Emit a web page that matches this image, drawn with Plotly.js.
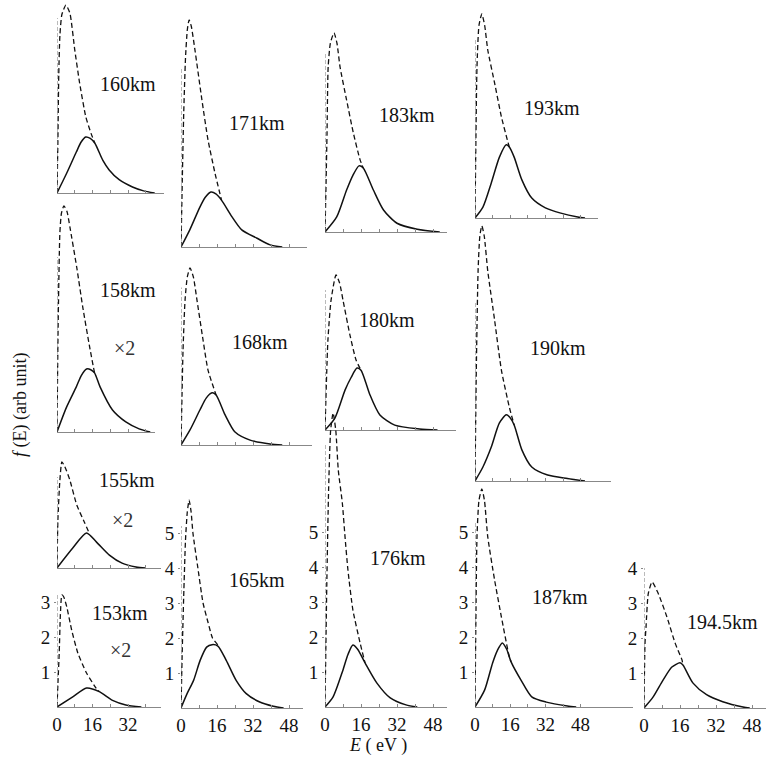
<!DOCTYPE html>
<html><head><meta charset="utf-8">
<script src="https://cdn.plot.ly/plotly-3.0.1.min.js"></script>
<style>html,body{margin:0;padding:0;background:#fff}#chart{width:766px;height:762px}</style>
</head><body><div id="chart"></div>
<script>
// ---- values: E (eV) and f(E) (arb. unit) ----
// dashed (d) and solid (s) curves for each altitude
const E160d=[0,0.4,0.8,1.3,2.2,4,5.8,8,10.2,13,15.3,17];
const F160d=[0,1.5,3.4,4.5,5.1,5.37,5.14,4.09,3.14,2.17,1.71,1.43];
const E160s=[0,4.4,8.7,10.8,12.9,15,17,20.6,23.5,28,34,39,44];
const F160s=[0,0.57,1.17,1.45,1.6,1.56,1.43,0.94,0.66,0.38,0.17,0.06,0];

const E158d=[0,0.5,1.3,2,3.1,4.5,5.8,8.9,11.6,14.7,16.9];
const F158d=[0,3.0,5.7,6.25,6.46,6.3,5.86,4.7,3.57,2.43,1.69];
const E158s=[0,4.3,8.7,11,13.3,15.2,16.9,19.4,25,31,37,42];
const F158s=[0,0.71,1.29,1.62,1.8,1.78,1.69,1.29,0.63,0.29,0.09,0];

const E155d=[0,0.4,1.3,2.2,3.5,5.8,8.9,12.4,14.5];
const F155d=[0,1.37,2.51,3.03,2.9,2.51,1.8,1.3,1.0];
const E155s=[0,7.1,13.3,17.8,23.6,29.3,35.6,40];
const F155s=[0,0.57,1.0,0.74,0.37,0.14,0.03,0];

const E153d=[0,0.5,1,1.5,2.2,3,4.4,6.6,9.4,13.3,17.6,19];
const F153d=[0,0.8,1.54,2.6,3.2,3.15,2.86,2.2,1.54,0.97,0.54,0.44];
const E153s=[0,7.1,13.3,19,25,31,38];
const F153s=[0,0.29,0.54,0.44,0.19,0.06,0];

const E171d=[0,0.6,1.2,2.0,2.8,3.6,4.6,6.2,9.3,12,15.1,18];
const F171d=[0,2.0,3.8,5.4,6.2,6.49,6.3,5.63,4.2,3.06,2.11,1.34];
const E171s=[0,3.9,8.4,10.8,13.3,15.5,18,22.6,27,33.8,39.6,45];
const F171s=[0,0.49,1.14,1.42,1.57,1.52,1.34,0.87,0.49,0.25,0.06,0];

const E168d=[0,0.9,1.8,2.8,4,5.5,7.1,9.8,12,15.6];
const F168d=[0,2.71,4.14,4.8,5.06,4.8,4.14,3.0,2.14,1.43];
const E168s=[0,4,8.4,11.2,13.8,15.6,19.6,24,30.7,39.6,45];
const F168s=[0,0.43,1.0,1.34,1.49,1.43,0.86,0.37,0.14,0.03,0];

const E165d=[0,0.5,1.2,2,2.8,3.6,4.5,5.3,7.5,9.8,12,14,16.4];
const F165d=[0,1.5,3.2,4.8,5.6,5.94,5.6,5.0,4.0,3.0,2.45,2.0,1.8];
const E165s=[0,2.7,5.6,8.5,11.4,13.8,16.4,20.1,24.5,29,35,41,45.6];
const F165s=[0,0.41,0.79,1.36,1.74,1.81,1.77,1.36,0.79,0.41,0.17,0.05,0];

const E183d=[0,0.5,0.9,1.4,2.4,4,5.3,6.7,9.6,12.6,15.6,17];
const F183d=[0,1.5,2.83,4.71,5.4,5.69,5.4,4.71,3.77,2.83,2.06,1.83];
const E183s=[0,5.2,9.6,12.4,15.1,17,21.5,26,32,41,51];
const F183s=[0,0.43,1.2,1.62,1.89,1.83,1.2,0.63,0.25,0.08,0];

const E180d=[0,1.3,2.7,4.9,6.5,8,11.1,13.8,16];
const F180d=[0,2.57,3.71,4.43,4.2,3.71,2.71,2.0,1.71];
const E180s=[0,4.4,8.9,11.6,14.2,16,18,20,24.4,31,42,50];
const F180s=[0,0.34,1.14,1.5,1.77,1.71,1.38,1.0,0.43,0.14,0.03,0];

const E176d=[0,0.8,1.6,2.5,3.6,4.8,5.9,7.7,8.9,10.2,12.4,15.6,17.8];
const F176d=[0,3.5,6.2,7.9,8.4,7.9,6.77,5.83,4.86,3.91,2.77,1.83,1.26];
const E176s=[0,3.6,8,10.2,12.4,14.5,17.8,23,29,36,41];
const F176s=[0,0.29,1.06,1.5,1.77,1.65,1.26,0.69,0.26,0.06,0];

const E193d=[0,0.4,0.9,1.8,3.1,4.4,5.8,8.9,12,14.7,15.6];
const F193d=[0,2.2,4.31,5.5,5.83,5.5,4.8,3.86,2.89,2.23,2.03];
const E193s=[0,3.6,7.4,11.1,14.2,15.6,17.8,21.3,25.8,32,39,46.7,50];
const F193s=[0,0.31,1.0,1.74,2.09,2.03,1.74,1.09,0.57,0.29,0.14,0.03,0];

const E190d=[0,0.6,1.4,2.2,3.1,4.2,5.8,8.9,12,15.6,17.8];
const F190d=[0,3.2,6.0,7.0,7.29,7.0,6.0,4.6,3.17,2.11,1.6];
const E190s=[0,3.6,7.4,11.1,14.2,15.8,17.8,21.3,25.8,33,42,50];
const F190s=[0,0.4,0.97,1.66,1.89,1.82,1.6,0.89,0.4,0.17,0.07,0];

const E187d=[0,0.4,0.9,1.8,3.1,4.3,5.8,8.9,12,15.6,16.4];
const F187d=[0,2.5,4.86,5.9,6.23,5.9,4.86,3.63,2.57,1.43,1.29];
const E187s=[0,4.4,8,10.2,12.4,14.4,16.4,20.9,25.8,32.4,42,46];
const F187s=[0,0.49,1.26,1.62,1.83,1.65,1.29,0.77,0.29,0.14,0.03,0];

const E1945d=[0,0.44,0.9,1.9,3.6,6.2,10.2,13.8,16.9,17.3];
const F1945d=[0,1.84,2.31,3.27,3.6,3.29,2.6,1.86,1.37,1.23];
const E1945s=[0,4,8.4,12.4,16,17.3,21.8,27.8,35,44,47];
const F1945s=[0,0.31,0.79,1.17,1.29,1.23,0.71,0.38,0.18,0.03,0];

const xTickVals=[0,8,16,24,32,40,48];
const xTickText=['0','','16','','32','','48'];
const xTickText3=['0','','16','','32','',''];

// ---- layout geometry (pixels) ----
const W=766,H=762,U=35;
const FONT='Times New Roman, Liberation Serif, DejaVu Serif, serif';
const panels=[
 {lab:'160km',ed:E160d,fd:F160d,es:E160s,fs:F160s,x0:57,ppe:2.22,base:193,emax:48,ymax:5.5,top:5.0,lx:128,ly:84},
 {lab:'158km',ed:E158d,fd:F158d,es:E158s,fs:F158s,x0:57,ppe:2.22,base:432,emax:44,ymax:6.6,top:5.0,lx:128,ly:290,x2:[124,348]},
 {lab:'155km',ed:E155d,fd:F155d,es:E155s,fs:F155s,x0:57,ppe:2.22,base:568,emax:47,ymax:3.15,top:2.6,lx:127,ly:480,x2:[122,520]},
 {lab:'153km',ed:E153d,fd:F153d,es:E153s,fs:F153s,x0:57,ppe:2.22,base:707,emax:47,ymax:3.35,top:3.2,lx:120,ly:613,x2:[120,650],bottom:true,xt:xTickText3,yt:[1,2,3]},
 {lab:'171km',ed:E171d,fd:F171d,es:E171s,fs:F171s,x0:181,ppe:2.25,base:247,emax:56,ymax:6.6,top:5.1,lx:257,ly:123},
 {lab:'168km',ed:E168d,fd:F168d,es:E168s,fs:F168s,x0:181,ppe:2.25,base:445,emax:58,ymax:5.15,top:4.5,lx:260,ly:342},
 {lab:'165km',ed:E165d,fd:F165d,es:E165s,fs:F165s,x0:181,ppe:2.25,base:708,emax:54,ymax:6.05,top:5.2,lx:257,ly:580,bottom:true,xt:xTickText,yt:[1,2,3,4,5]},
 {lab:'183km',ed:E183d,fd:F183d,es:E183s,fs:F183s,x0:325,ppe:2.25,base:232,emax:54,ymax:5.8,top:5.1,lx:407,ly:115},
 {lab:'180km',ed:E180d,fd:F180d,es:E180s,fs:F180s,x0:325,ppe:2.25,base:430,emax:58,ymax:4.55,top:4.0,lx:387,ly:320},
 {lab:'176km',ed:E176d,fd:F176d,es:E176s,fs:F176s,x0:325,ppe:2.25,base:707,emax:54,ymax:8.6,top:7.5,lx:398,ly:558,bottom:true,xt:xTickText,yt:[1,2,3,4,5]},
 {lab:'193km',ed:E193d,fd:F193d,es:E193s,fs:F193s,x0:475,ppe:2.2,base:218,emax:56,ymax:5.95,top:5.1,lx:552,ly:108},
 {lab:'190km',ed:E190d,fd:F190d,es:E190s,fs:F190s,x0:475,ppe:2.2,base:481,emax:62,ymax:7.4,top:5.1,lx:558,ly:348},
 {lab:'187km',ed:E187d,fd:F187d,es:E187s,fs:F187s,x0:475,ppe:2.2,base:707,emax:72,ymax:6.35,top:5.3,lx:560,ly:597,bottom:true,xt:xTickText,yt:[1,2,3,4,5]},
 {lab:'194.5km',ed:E1945d,fd:F1945d,es:E1945s,fs:F1945s,x0:644,ppe:2.25,base:708,emax:54,ymax:4.05,top:4.0,lx:722,ly:622,bottom:true,xt:xTickText,yt:[1,2,3,4]}
];

const traces=[];
const layout={width:W,height:H,margin:{l:0,r:0,t:0,b:0},paper_bgcolor:'#fff',plot_bgcolor:'rgba(0,0,0,0)',
  showlegend:false,font:{family:FONT,color:'#111'},shapes:[],annotations:[]};

panels.forEach((p,i)=>{
  const s=i===0?'':String(i+1);
  traces.push({x:p.ed,y:p.fd,xaxis:'x'+s,yaxis:'y'+s,mode:'lines',
    line:{color:'#111',width:1.3,dash:'5px,3px',shape:'spline',smoothing:0.55},hoverinfo:'skip'});
  traces.push({x:p.es,y:p.fs,xaxis:'x'+s,yaxis:'y'+s,mode:'lines',
    line:{color:'#111',width:1.5,shape:'spline',smoothing:0.7},hoverinfo:'skip'});
  layout['xaxis'+s]={domain:[p.x0/W,(p.x0+p.emax*p.ppe)/W],range:[0,p.emax],anchor:'y'+s,
    showline:true,linecolor:'#888',linewidth:1,showgrid:false,zeroline:false,
    ticks:'inside',ticklen:3,tickcolor:'#888',tickvals:xTickVals,ticktext:p.xt||xTickText,
    showticklabels:!!p.bottom,tickfont:{family:FONT,size:19,color:'#111'},fixedrange:true};
  layout['yaxis'+s]={domain:[(H-p.base)/H,(H-p.base+p.ymax*U)/H],range:[0,p.ymax],anchor:'x'+s,
    showline:false,showgrid:false,zeroline:false,
    tickvals:p.yt||[],ticks:p.yt?'outside':'',ticklen:2,tickcolor:'#888',
    showticklabels:!!p.yt,tickfont:{family:FONT,size:19,color:'#111'},fixedrange:true};
  layout.shapes.push({type:'line',xref:'x'+s,yref:'y'+s,x0:0,x1:0,y0:0,y1:p.top,
    line:{color:'#777',width:1,dash:'4px,2px'}});
  layout.annotations.push({xref:'paper',yref:'paper',x:p.lx/W,y:1-p.ly/H,text:p.lab,showarrow:false,
    xanchor:'center',yanchor:'middle',font:{family:FONT,size:20,color:'#111'}});
  if(p.x2) layout.annotations.push({xref:'paper',yref:'paper',x:p.x2[0]/W,y:1-p.x2[1]/H,text:'×2',showarrow:false,
    xanchor:'center',yanchor:'middle',font:{family:FONT,size:20,color:'#333'}});
});
layout.annotations.push({xref:'paper',yref:'paper',x:378/W,y:1-745/H,text:'<i>E</i> ( eV )',showarrow:false,
  xanchor:'center',yanchor:'middle',font:{family:FONT,size:18,color:'#111'}});
layout.annotations.push({xref:'paper',yref:'paper',x:20/W,y:1-405/H,text:'<i>f</i> (E) (arb unit)',showarrow:false,
  textangle:-90,xanchor:'center',yanchor:'middle',font:{family:FONT,size:18,color:'#111'}});

Plotly.newPlot('chart',traces,layout,{staticPlot:true,displayModeBar:false});
</script></body></html>
